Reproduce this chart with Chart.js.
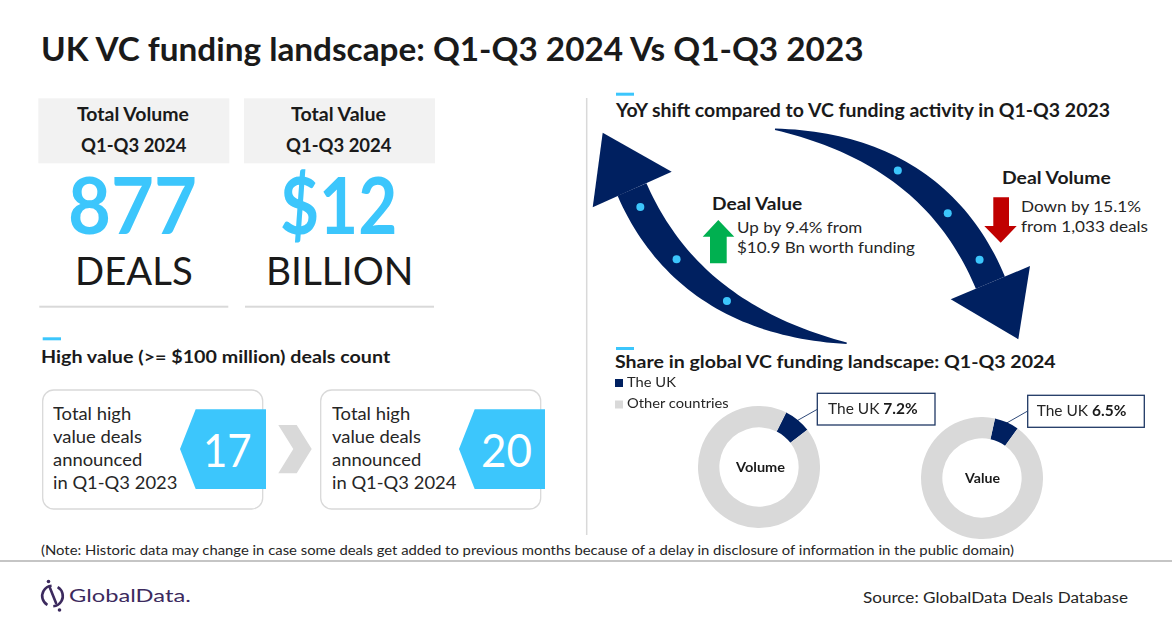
<!DOCTYPE html>
<html>
<head>
<meta charset="utf-8">
<script src="https://cdn.jsdelivr.net/npm/chart.js@4.4.1/dist/chart.umd.min.js"></script>
<style>
  html, body { margin: 0; padding: 0; background: #fff; }
  #page { position: relative; width: 1172px; height: 628px; overflow: hidden; background: #fff; }
  #deco { position: absolute; left: 0; top: 0; }
  .txt { position: absolute; white-space: nowrap; transform-origin: 0 0; }
  .ring { position: absolute; width: 122px; height: 122px; }
</style>
</head>
<body>
<div id="page">
  <svg id="deco" width="1172" height="628"></svg>
  <div class="ring" id="volWrap" style="left:698px;top:406px"><canvas id="volumeChart"></canvas></div>
  <div class="ring" id="valWrap" style="left:921px;top:417px"><canvas id="valueChart"></canvas></div>
</div>
<script>
// --- datos ---
const kpiTitles = ['Total Volume', 'Total Value'];
const kpiPeriods = ['Q1-Q3 2024', 'Q1-Q3 2024'];
const kpiFigures = ['877', '$12'];
const kpiUnits = ['DEALS', 'BILLION'];
const highValuePeriods = ['Q1-Q3 2023', 'Q1-Q3 2024'];
const highValueCounts = [17, 20];
const yoyMetrics = ['Deal Value', 'Deal Volume'];
const yoyNotes = [['Up by 9.4% from', '$10.9 Bn worth funding'], ['Down by 15.1%', 'from 1,033 deals']];
const shareLabels = ['The UK', 'Other countries'];
const shareMeasures = ['Volume', 'Value'];
const volumeShare = [7.2, 92.8];
const valueShare = [6.5, 93.5];

const NAVY = '#002060';
const CYAN = '#3cc6fc';
const GREY = '#d9d9d9';
const INK = '#1a1a1a';
const FONT = 'Lato, "Open Sans", sans-serif';

const page = document.getElementById('page');
const deco = document.getElementById('deco');
const meas = document.createElement('canvas').getContext('2d');

// texto real en HTML, ajustado por altura de mayúsculas y ancho
function label(str, x, base, capH, o = {}) {
    const wt = o.bold ? '700' : '400';
    meas.font = `${wt} 100px ${FONT}`;
    const fs = capH * 100 / meas.measureText('H').actualBoundingBoxAscent;
    meas.font = `${wt} ${fs}px ${FONT}`;
    const m = meas.measureText(str);
    let sx = o.sx || (o.w ? o.w / m.width : 1);
    sx = Math.min(1.3, Math.max(0.75, sx));
    const w = m.width * sx;
    const left = o.align === 'center' ? x - w / 2 : (o.align === 'right' ? x - w : x);
    const el = document.createElement('div');
    el.className = 'txt';
    el.textContent = str;
    Object.assign(el.style, {
        left: left + 'px',
        top: (base - m.fontBoundingBoxAscent) + 'px',
        font: `${wt} ${fs}px ${FONT}`,
        lineHeight: (m.fontBoundingBoxAscent + m.fontBoundingBoxDescent) + 'px',
        color: o.color || INK,
        transform: `scaleX(${sx})`
    });
    page.appendChild(el);
    return { right: left + w, sx: sx };
}

function svgEl(tag, attrs) {
    const e = document.createElementNS('http://www.w3.org/2000/svg', tag);
    for (const k in attrs) e.setAttribute(k, attrs[k]);
    deco.appendChild(e);
    return e;
}
const pts = a => a.map(p => p[0].toFixed(1) + ',' + p[1].toFixed(1)).join(' ');

// flechas curvas
function quadPt(p0, p1, p2, t) {
    const u = 1 - t;
    return [u * u * p0[0] + 2 * u * t * p1[0] + t * t * p2[0], u * u * p0[1] + 2 * u * t * p1[1] + t * t * p2[1]];
}
function quadTan(p0, p1, p2, t) {
    const u = 1 - t;
    return [2 * u * (p1[0] - p0[0]) + 2 * t * (p2[0] - p1[0]), 2 * u * (p1[1] - p0[1]) + 2 * t * (p2[1] - p1[1])];
}
function curvedArrow(p0, p1, p2, wFn, head, dots) {
    const a = [], b = [];
    for (let i = 0; i <= 48; i++) {
        const t = i / 48;
        const p = quadPt(p0, p1, p2, t), d = quadTan(p0, p1, p2, t);
        const l = Math.hypot(d[0], d[1]);
        const nx = -d[1] / l, ny = d[0] / l, hw = wFn(t) / 2;
        a.push([p[0] + nx * hw, p[1] + ny * hw]);
        b.unshift([p[0] - nx * hw, p[1] - ny * hw]);
    }
    svgEl('polygon', { points: pts(a.concat(b)), fill: NAVY });
    svgEl('polygon', { points: pts(head), fill: NAVY });
    dots.forEach(t => {
        const p = quadPt(p0, p1, p2, t);
        svgEl('circle', { cx: p[0], cy: p[1], r: 4, fill: CYAN });
    });
}

// --- fondo y formas ---
const kpiX = [38.3, 244];
kpiX.forEach(x => {
    svgEl('rect', { x: x, y: 98.3, width: 191, height: 65, fill: '#f2f2f2' });
    svgEl('rect', { x: x + 1, y: 305.7, width: 189, height: 2, fill: GREY });
});
svgEl('line', { x1: 586.7, y1: 98, x2: 586.7, y2: 535, stroke: GREY, 'stroke-width': 1.5 });
svgEl('rect', { x: 42.7, y: 337.3, width: 18.3, height: 3, fill: CYAN });
svgEl('rect', { x: 616, y: 92.7, width: 18, height: 3, fill: CYAN });
svgEl('rect', { x: 616, y: 347, width: 18, height: 3, fill: CYAN });

const cardX = [42.7, 320.7];
cardX.forEach((x, i) => {
    svgEl('rect', { x: x, y: 390, width: 220, height: 119, rx: 11, fill: '#fff', stroke: GREY, 'stroke-width': 1.3 });
    const d = x - 42.7 + (i ? 1 : 0);
    svgEl('polygon', { points: pts([[195.7 + d, 409.3], [266 + d, 409.3], [266 + d, 489], [195.7 + d, 489], [180 + d, 449]]), fill: CYAN });
});
svgEl('polygon', { points: pts([[278.3, 425], [296.7, 425], [311.7, 449], [296.7, 473.3], [278.3, 473.3], [293.3, 449]]), fill: GREY });

curvedArrow([632, 189.5], [688, 318], [846.7, 343.3], t => 1.5 + 30 * (1 - Math.pow(t, 2.2)),
    [[602.7, 132.7], [592.7, 207.3], [671.7, 171.7]], [0.07, 0.31, 0.56]);
curvedArrow([775, 129.3], [935, 150], [990.4, 282.7], t => 1.5 + 30 * (1 - Math.pow(1 - t, 2.2)),
    [[950.7, 299.3], [1030, 266], [1018.3, 339.3]], [0.45, 0.7, 0.91]);

// flechas verde y roja
svgEl('polygon', { points: pts([[718.3, 220], [734.3, 236.7], [726.7, 236.7], [726.7, 263.3], [710, 263.3], [710, 236.7], [702.7, 236.7]]), fill: '#00b050' });
svgEl('polygon', { points: pts([[993.3, 197.3], [1009, 197.3], [1009, 226], [1016.7, 226], [1000.7, 242.7], [984.3, 226], [993.3, 226]]), fill: '#c00000' });

// leyenda
svgEl('rect', { x: 615, y: 379, width: 8, height: 8, fill: NAVY });
svgEl('rect', { x: 615, y: 400.5, width: 8, height: 8, fill: GREY });

// cajas de llamada
svgEl('rect', { x: 817.3, y: 393.3, width: 117.7, height: 31.7, fill: '#fff', stroke: '#1f3864', 'stroke-width': 1.3 });
svgEl('rect', { x: 1027.7, y: 395.3, width: 116.6, height: 32, fill: '#fff', stroke: '#1f3864', 'stroke-width': 1.3 });

// pie
svgEl('line', { x1: 0, y1: 561, x2: 1172, y2: 561, stroke: '#8c8c8c', 'stroke-width': 1.2 });
svgEl('circle', { cx: 52.5, cy: 596, r: 10.3, fill: 'none', stroke: '#3c2a5e', 'stroke-width': 2.6, 'stroke-dasharray': '26 6 26 7', transform: 'rotate(-60 52.5 596)' });
svgEl('line', { x1: 50, y1: 588, x2: 56, y2: 603, stroke: '#3c2a5e', 'stroke-width': 2.6, 'stroke-linecap': 'round' });
svgEl('circle', { cx: 48.5, cy: 581.5, r: 1.8, fill: '#3c2a5e' });
svgEl('circle', { cx: 59.5, cy: 610, r: 1.8, fill: '#3c2a5e' });

// --- anillos (Chart.js) ---
function ringChart(id, values, rotation) {
    return new Chart(document.getElementById(id), {
        type: 'doughnut',
        data: {
            labels: shareLabels,
            datasets: [{
                data: values,
                backgroundColor: [NAVY, GREY],
                borderWidth: 0,
                hoverOffset: 0
            }]
        },
        options: {
            responsive: true,
            maintainAspectRatio: false,
            animation: false,
            cutout: '65%',
            rotation: rotation,
            layout: { padding: 0 },
            events: [],
            plugins: { legend: { display: false }, tooltip: { enabled: false } }
        }
    });
}
const volumeChart = ringChart('volumeChart', volumeShare, 26.5);
const valueChart = ringChart('valueChart', valueShare, 12.3);

// línea guía desde el arco del Reino Unido hasta su caja
function leader(chart, wrapId, tx, ty) {
    const arc = chart.getDatasetMeta(0).data[0];
    const wrap = document.getElementById(wrapId);
    const a = (arc.startAngle + arc.endAngle) / 2;
    const x = wrap.offsetLeft + arc.x + Math.cos(a) * (arc.outerRadius - 1);
    const y = wrap.offsetTop + arc.y + Math.sin(a) * (arc.outerRadius - 1);
    svgEl('line', { x1: x, y1: y, x2: tx, y2: ty, stroke: '#2f4a7a', 'stroke-width': 1 });
}
leader(volumeChart, 'volWrap', 817.3, 409.3);
leader(valueChart, 'valWrap', 1027.7, 411);

// --- textos ---
label('UK VC funding landscape: Q1-Q3 2024 Vs Q1-Q3 2023', 41, 61, 23.7, { bold: true, w: 825 });

const kpiCx = [133.5, 339.2];
const kpiTitleW = [112.6, 95.7], kpiFigW = [129, 117.3], kpiUnitW = [117.7, 147.3];
kpiCx.forEach((cx, i) => {
    label(kpiTitles[i], cx, 120.7, 14, { bold: true, w: kpiTitleW[i], align: 'center' });
    label(kpiPeriods[i], cx, 152, 13.7, { bold: true, w: 105.5, align: 'center' });
    label(kpiFigures[i], cx - 0.8, 234.3, 57.6, { bold: true, w: kpiFigW[i], align: 'center', color: CYAN });
    label(kpiUnits[i], cx, 285, 27.7, { w: kpiUnitW[i], align: 'center' });
});

label('High value (>= $100 million) deals count', 41, 363.3, 12.6, { bold: true, w: 349.7 });
const cardTextX = [53.3, 331.7];
const lineBase = [420, 442.7, 466, 489.3];
cardTextX.forEach((x, i) => {
    const lines = ['Total high', 'value deals', 'announced', 'in ' + highValuePeriods[i]];
    const fit = label(lines[3], x, lineBase[3], 12.7, { w: 124.4, color: '#262626' });
    for (let k = 0; k < 3; k++) label(lines[k], x, lineBase[k], 12.7, { sx: fit.sx, color: '#262626' });
    label(String(highValueCounts[i]), [227.3, 506.2][i], 466.7, 33.3, { w: [48.7, 51][i], align: 'center', color: '#fff' });
});

label('YoY shift compared to VC funding activity in Q1-Q3 2023', 616, 116.7, 13.3, { bold: true, w: 496 });
label(yoyMetrics[0], 711.7, 210, 12.5, { bold: true, w: 91 });
let f = label(yoyNotes[0][1], 736.7, 252.7, 11.3, { w: 178.3, color: '#262626' });
label(yoyNotes[0][0], 736.7, 232.7, 11.3, { sx: f.sx, color: '#262626' });
label(yoyMetrics[1], 1001.7, 184, 12.5, { bold: true, w: 109.5 });
f = label(yoyNotes[1][1], 1020.7, 231.7, 11.3, { w: 127, color: '#262626' });
label(yoyNotes[1][0], 1020.7, 211.7, 11.3, { sx: f.sx, color: '#262626' });

label('Share in global VC funding landscape: Q1-Q3 2024', 614.6, 368.3, 12.5, { bold: true, w: 441.4 });
f = label(shareLabels[1], 627.4, 408.3, 9.3, { w: 102, color: '#262626' });
label(shareLabels[0], 627.4, 386.7, 9.3, { sx: f.sx, color: '#262626' });

label(shareMeasures[0], 760.5, 471.7, 10, { bold: true, w: 49, align: 'center' });
label(shareMeasures[1], 982.5, 482.7, 10, { bold: true, w: 35, align: 'center' });

f = label(shareLabels[0] + ' ', 828, 414, 11.3, { color: '#262626' });
label(volumeShare[0].toFixed(1) + '%', f.right, 414, 11.3, { bold: true });
f = label(shareLabels[0] + ' ', 1036.7, 416, 11.3, { color: '#262626' });
label(valueShare[0].toFixed(1) + '%', f.right, 416, 11.3, { bold: true });

label('(Note: Historic data may change in case some deals get added to previous months because of a delay in disclosure of information in the public domain)',
    40.7, 555, 10, { w: 974.3, color: '#262626' });
label('GlobalData.', 69.3, 601.7, 13.3, { w: 129, color: '#3c2a5e' });
label('Source: GlobalData Deals Database', 863.3, 602.5, 11.7, { w: 265, color: '#262626' });
</script>
</body>
</html>
